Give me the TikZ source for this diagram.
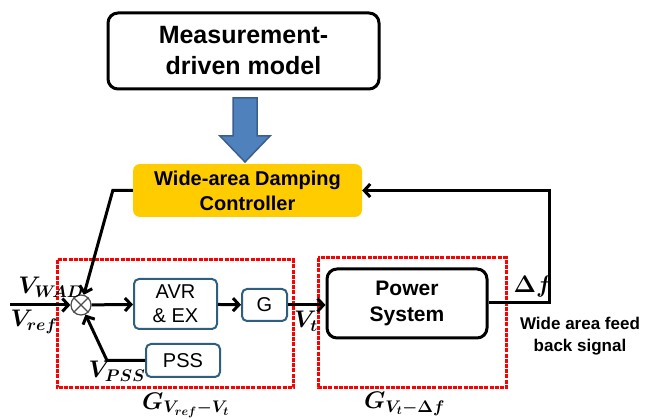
\RequirePackage{fix-cm}
\documentclass[tikz,border=0pt]{standalone}
\usepackage{fontspec}
\setmainfont{Liberation Sans}
\usetikzlibrary{arrows.meta}

\definecolor{wadyellow}{HTML}{FFCC00}
\definecolor{blockblue}{HTML}{2E5F7E}
\definecolor{arrowfill}{HTML}{4F81BD}
\definecolor{arrowedge}{HTML}{3A5F8F}
\definecolor{groupred}{HTML}{FF0000}

\begin{document}
\begin{tikzpicture}[x=1pt,y=-1pt,
  flow/.style={line width=3pt,-{Straight Barb[length=6pt,width=13pt,line width=3pt]}},
  bigbox/.style={draw=black,line width=3pt,rounded corners=10pt,align=center,inner sep=0pt,
    font=\bfseries},
  subblock/.style={draw=blockblue,line width=2pt,rounded corners=5pt,fill=white,align=center,
    inner sep=0pt,font=\fontsize{20}{24}\selectfont},
  group/.style={draw=groupred,line width=3pt,dash pattern=on 4pt off 1.2pt},
  sig/.style={font=\fontsize{24}{28}\selectfont\boldmath,inner sep=0pt}
]
\useasboundingbox (0,0) rectangle (646,419);

% model and controller
\node[bigbox,minimum width=271pt,minimum height=76pt,
  font=\fontsize{25}{31}\selectfont\bfseries] (model) at (243.5,51) {Measurement-\\driven model};
\node[fill=wadyellow,rounded corners=7pt,minimum width=229pt,minimum height=53pt,inner sep=0pt,
  align=center,font=\fontsize{20}{25}\selectfont\bfseries] (wadc) at (247.5,190.5)
  {Wide-area Damping\\Controller};

% block arrow from the model down to the controller
\filldraw[fill=arrowfill,draw=arrowedge,line width=1.5pt,line join=miter]
  (233,98) -- (257,98) -- (257,136) -- (270,136) -- (245,162) -- (220,136) -- (233,136) -- cycle;

% dashed groups
\draw[group] (57,260) rectangle (293,388);
\draw[group] (318,258) rectangle (506,388);

% generator loop blocks
\node[draw=black!70,fill=white,line width=1.2pt,circle,minimum size=20pt,inner sep=0pt] (sum) at (81,305) {};
\draw[black!70,line width=1.2pt] (sum.45) -- (sum.225) (sum.135) -- (sum.-45);
\node[subblock,minimum width=83pt,minimum height=50pt] (avr) at (175.5,304) {AVR\\\& EX};
\node[subblock,minimum width=45pt,minimum height=32pt] (gen) at (264.5,305) {G};
\node[subblock,minimum width=74pt,minimum height=33pt] (pss) at (183,360.5) {PSS};
\node[bigbox,minimum width=160pt,minimum height=69pt,
  font=\fontsize{21}{26}\selectfont\bfseries] (ps) at (407,303.5) {Power\\System};

% connectors
\coordinate (vin) at (10,305);
\draw[flow] (vin) -- (sum);
\draw[flow] (sum) -- (avr);
\draw[flow] (avr) -- (gen);
\draw[flow] (gen.east) -- (ps.west |- gen.east);
\coordinate (fbcorner) at (549,303);
\draw[flow] (ps.east |- fbcorner) -- (fbcorner) |- (wadc.east);
\draw[flow] (wadc.west) -- ++(-20,0) -- (sum);
\draw[flow] (pss.west) -- (107,360.5) -- (sum);

% signal labels
\node[sig] (vwad) at (51,287) {$V_{W\!AD}$};
\node[sig] (vref) at (34,322) {$V_{ref}$};
\node[sig] (vpss) at (117,371) {$V_{PSS}$};
\node[sig] (vt) at (306,321) {$V_{t}$};
\node[sig] (df) at (533,287) {$\Delta f$};
\node[sig,anchor=west] (g1) at (142,405) {$G_{V_{ref}-V_t}$};
\node[sig,anchor=west] (g2) at (364,404) {$G_{V_t-\Delta f}$};
\node[align=center,inner sep=0pt,font=\fontsize{17}{22}\selectfont\bfseries] (fbtext) at (580,336)
  {Wide area feed\\back signal};
\end{tikzpicture}
\end{document}
